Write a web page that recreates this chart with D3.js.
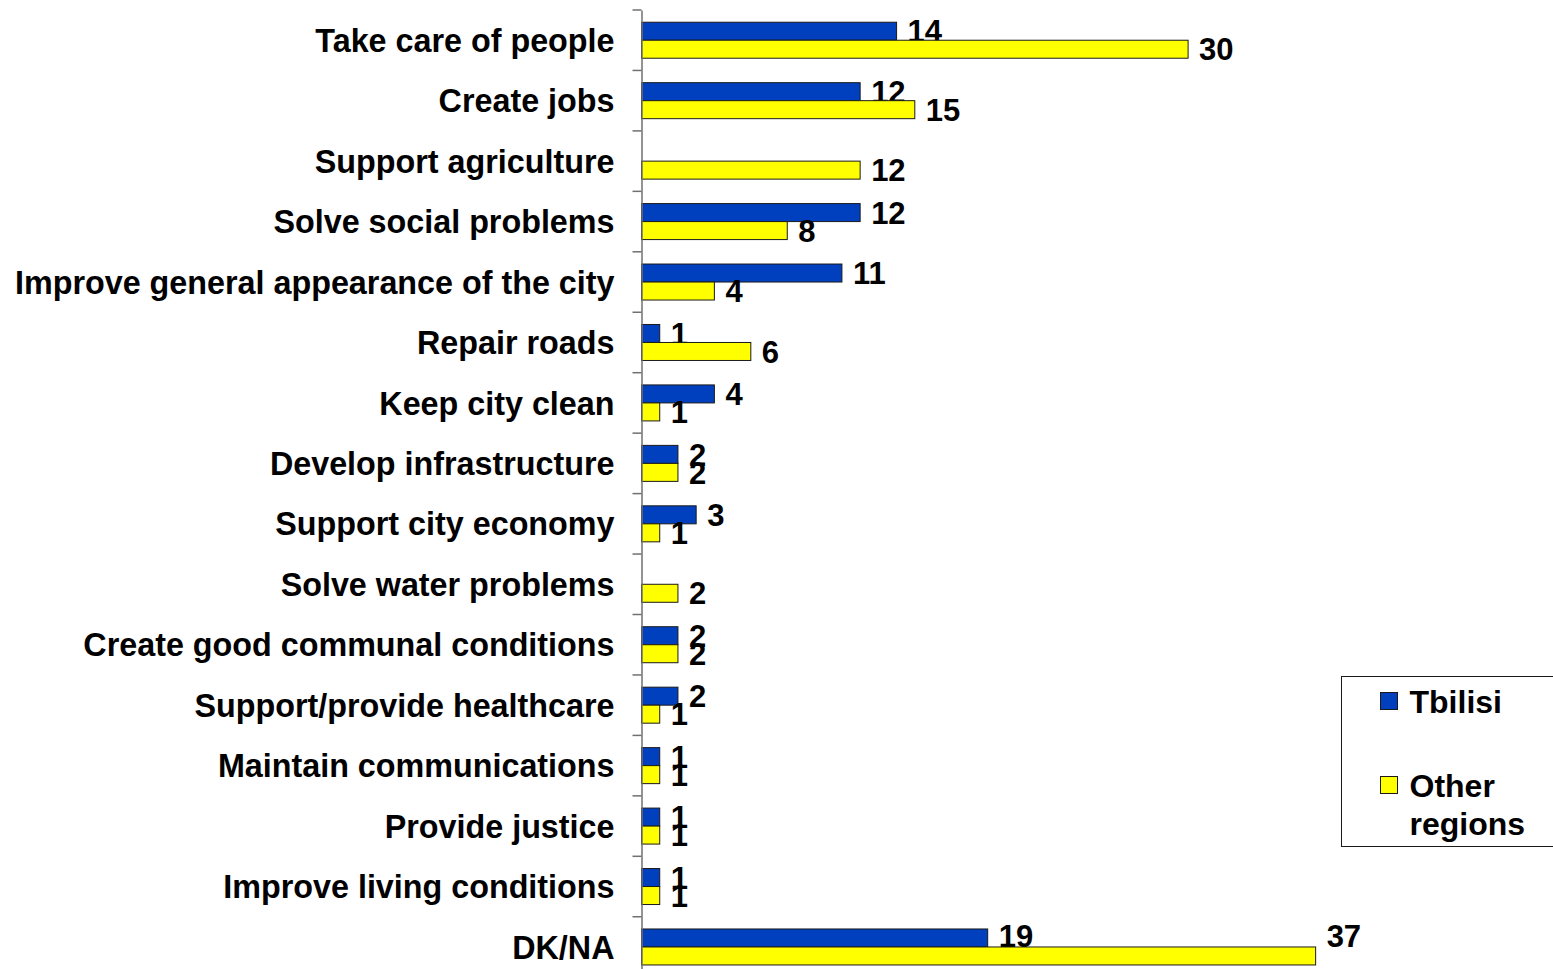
<!DOCTYPE html>
<html>
<head>
<meta charset="utf-8">
<script src="https://cdn.jsdelivr.net/npm/d3@7"></script>
<style>
  body { margin: 0; background: #fff; }
  text { font-family: "Liberation Sans", Arial, sans-serif; font-weight: bold; fill: #000; }
</style>
</head>
<body>
<div id="chart"></div>
<script>
var categories = ["Take care of people", "Create jobs", "Support agriculture", "Solve social problems",
  "Improve general appearance of the city", "Repair roads", "Keep city clean", "Develop infrastructure",
  "Support city economy", "Solve water problems", "Create good communal conditions",
  "Support/provide healthcare", "Maintain communications", "Provide justice",
  "Improve living conditions", "DK/NA"];
var seriesNames = ["Tbilisi", "Other regions"];
var tbilisi = [14, 12, null, 12, 11, 1, 4, 2, 3, null, 2, 2, 1, 1, 1, 19];
var otherRegions = [30, 15, 12, 8, 4, 6, 1, 2, 1, 2, 2, 1, 1, 1, 1, 37];
var colors = ["#0040bf", "#ffff00"];

var width = 1553, height = 969;
var axisX = 641.5, plotTop = 10, step = 60.45;

var svg = d3.select("#chart").append("svg")
  .attr("width", width)
  .attr("height", height);

var data = categories.map(function(c, i) {
  return {label: c, values: [tbilisi[i], otherRegions[i]]};
});

var x = d3.scaleLinear().domain([0, 40]).range([axisX, axisX + 40 * 18.22]);
var y0 = d3.scaleBand().domain(categories).range([plotTop, plotTop + step * categories.length]);
var groupH = 36;
var y1 = d3.scaleBand().domain(seriesNames).range([0, groupH]);

var rowOffset = function(d) { return y0(d.label) + (y0.bandwidth() - groupH) / 2; };

var row = svg.selectAll("g.row")
  .data(data)
  .enter()
  .append("g")
  .attr("class", "row")
  .attr("transform", function(d) { return "translate(0," + rowOffset(d) + ")"; });

seriesNames.forEach(function(s, si) {
  var withVal = row.filter(function(d) { return d.values[si] != null; });
  withVal.append("rect")
    .attr("x", x(0))
    .attr("y", y1(s))
    .attr("width", function(d) { return x(d.values[si]) - x(0); })
    .attr("height", y1.bandwidth())
    .attr("fill", colors[si])
    .attr("stroke", "#1a1a1a")
    .attr("stroke-width", 1);
  withVal.append("text")
    .attr("x", function(d) { return x(d.values[si]) + 11; })
    .attr("y", function(d) {
      // keep labels inside the picture (last row gets pushed up)
      var cy = y1(s) + y1.bandwidth() / 2;
      return Math.min(cy, height - 33 - rowOffset(d));
    })
    .attr("dy", ".36em") //vertical align middle
    .style("font-size", "31px")
    .text(function(d) { return d.values[si]; });
});

// category axis
var yAxis = d3.axisLeft(y0).tickSize(0).tickPadding(27);
var gAxis = svg.append("g")
  .attr("transform", "translate(" + axisX + ",0)")
  .call(yAxis);
gAxis.select(".domain").attr("stroke", "#707070").attr("stroke-width", 1.5);
gAxis.selectAll(".tick text")
  .style("font-size", "32.3px")
  .attr("dy", ".36em")
  .attr("font-family", null);

// tick marks between categories
svg.append("g").selectAll("line")
  .data(d3.range(categories.length + 1))
  .enter()
  .append("line")
  .attr("x1", axisX - 9)
  .attr("x2", axisX)
  .attr("y1", function(i) { return plotTop + i * step; })
  .attr("y2", function(i) { return plotTop + i * step; })
  .attr("stroke", "#707070")
  .attr("stroke-width", 1.5);

// legend
var legend = svg.append("g").attr("transform", "translate(1341.5,676.5)");
legend.append("rect")
  .attr("width", 240)
  .attr("height", 170)
  .attr("fill", "#fff")
  .attr("stroke", "#1a1a1a")
  .attr("stroke-width", 1);
var legendRows = [
  {lines: ["Tbilisi"], y: 16},
  {lines: ["Other", "regions"], y: 100}
];
legendRows.forEach(function(r, i) {
  legend.append("rect")
    .attr("x", 39)
    .attr("y", r.y)
    .attr("width", 17)
    .attr("height", 17)
    .attr("fill", colors[i])
    .attr("stroke", "#1a1a1a");
  var t = legend.append("text")
    .attr("x", 68)
    .attr("y", r.y + 20)
    .style("font-size", "32px");
  r.lines.forEach(function(l, li) {
    t.append("tspan").attr("x", 68).attr("dy", li === 0 ? 0 : 38).text(l);
  });
});
</script>
</body>
</html>
